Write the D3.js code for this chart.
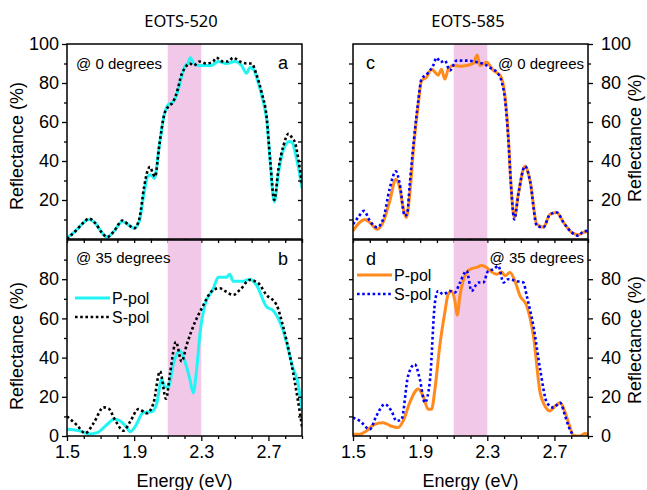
<!DOCTYPE html>
<html>
<head>
<meta charset="utf-8">
<script src="https://cdn.jsdelivr.net/npm/d3@7/dist/d3.min.js"></script>
<style>
  body { margin: 0; background: #fff; }
  text { font-family: Arial, "Liberation Sans", sans-serif; fill: #000; }
  .title { font-family: "Noto Sans", "Open Sans", sans-serif; }
</style>
</head>
<body>
<svg id="chart" width="647" height="490"></svg>
<script>

/******************************************************************************/
/*  Data (energy eV, reflectance %)                                           */
/******************************************************************************/

var energyDomain = [1.5, 2.9],
    bandRange    = [2.1, 2.3],
    xMajor       = [1.5, 1.9, 2.3, 2.7],
    xMinor       = [1.6, 1.7, 1.8, 2.0, 2.1, 2.2, 2.4, 2.5, 2.6, 2.8, 2.9],
    yTopLabels   = [20, 40, 60, 80, 100],
    yBotLabels   = [0, 20, 40, 60, 80],
    yMinor       = [10, 30, 50, 70, 90];

// EOTS-520, 0 degrees
var aP = [[1.50,0.5],[1.55,4],[1.60,8.5],[1.63,10],[1.67,8],[1.71,3],[1.74,1],[1.78,4],[1.83,9],[1.87,7],[1.90,5.5],[1.93,9],[1.96,24],[1.98,32],[2.00,33],[2.02,31],[2.05,48],[2.08,64],[2.105,69],[2.13,70],[2.15,73],[2.185,84],[2.205,89],[2.22,90],[2.235,93],[2.255,90],[2.28,89],[2.32,89],[2.36,89],[2.40,91],[2.45,90],[2.50,91],[2.54,89],[2.57,85],[2.59,88],[2.61,87],[2.64,80],[2.67,70],[2.69,61],[2.71,40],[2.735,19],[2.76,34],[2.79,46],[2.825,50],[2.845,49],[2.86,44],[2.88,36],[2.90,26]];
var aS = [[1.50,0],[1.55,4],[1.60,8.5],[1.63,10.5],[1.67,8],[1.71,3],[1.74,1],[1.78,4],[1.83,9.5],[1.87,7],[1.90,5.5],[1.93,10],[1.96,27],[1.98,35],[1.995,37],[2.01,34],[2.025,32],[2.05,48],[2.08,64],[2.105,68],[2.13,70],[2.15,74],[2.185,85],[2.205,88],[2.23,90],[2.255,89],[2.29,91],[2.33,90],[2.37,91],[2.39,93],[2.43,91],[2.46,91],[2.49,93],[2.53,91],[2.57,90],[2.60,90],[2.63,84],[2.66,75],[2.69,62],[2.71,41],[2.735,20],[2.76,36],[2.79,48],[2.82,54],[2.84,52],[2.86,49],[2.88,40],[2.90,28]];

// EOTS-520, 35 degrees
var bP = [[1.50,3.4],[1.58,2.5],[1.63,1],[1.68,1.7],[1.74,6],[1.78,8.5],[1.81,8],[1.85,5],[1.876,2.2],[1.906,4.8],[1.955,12],[2.005,12.4],[2.035,16.7],[2.064,29],[2.084,25],[2.104,25],[2.134,37],[2.173,43.5],[2.203,38],[2.233,28.6],[2.252,22],[2.272,33.7],[2.292,52],[2.322,67],[2.371,75],[2.401,81],[2.45,81],[2.47,82.5],[2.49,79],[2.55,79],[2.589,80],[2.629,77],[2.688,66],[2.728,64],[2.787,54],[2.847,34.5],[2.876,27],[2.90,13]];
var bS = [[1.50,10],[1.559,5.6],[1.609,1.4],[1.658,6.5],[1.718,14.6],[1.748,14],[1.787,8],[1.837,2.7],[1.876,7.3],[1.926,13.8],[1.975,11.6],[2.015,16.7],[2.054,33],[2.09,19],[2.114,32],[2.149,48],[2.183,38],[2.213,46.5],[2.262,58],[2.302,65],[2.371,74.5],[2.411,75.4],[2.441,74],[2.49,72],[2.53,74.5],[2.589,79.6],[2.639,78],[2.688,72],[2.748,67],[2.787,56],[2.837,37],[2.876,18],[2.90,4.8]];

// EOTS-585, 0 degrees
var cP = [[1.50,4.2],[1.54,8.5],[1.57,10],[1.60,8.5],[1.643,5],[1.679,8.5],[1.719,19.5],[1.755,30.5],[1.779,26],[1.799,16],[1.818,11],[1.838,23],[1.862,48],[1.888,68.6],[1.908,81],[1.938,83],[1.968,87],[1.988,85.6],[2.007,84],[2.027,87],[2.047,82],[2.067,87],[2.097,89],[2.137,88.6],[2.177,89],[2.216,90],[2.24,94.4],[2.256,89],[2.296,90.7],[2.336,86.4],[2.376,84],[2.405,73.7],[2.425,53],[2.441,28],[2.461,11],[2.485,23],[2.525,37.3],[2.555,29.7],[2.595,7.6],[2.634,6],[2.674,12.7],[2.714,13.6],[2.754,8.5],[2.803,3.4],[2.843,2.2],[2.873,3.4],[2.90,3.9]];
var cS = [[1.50,7.6],[1.53,11],[1.566,14.4],[1.60,9.3],[1.643,6],[1.679,10],[1.719,26],[1.755,34.7],[1.779,28],[1.808,11.9],[1.822,12.7],[1.838,28],[1.862,50],[1.888,70.3],[1.908,82],[1.942,84.7],[1.978,89],[1.998,93],[2.021,90.7],[2.047,91.5],[2.077,86.4],[2.117,91.5],[2.177,91.5],[2.236,90.7],[2.296,89],[2.326,87.3],[2.356,85.6],[2.386,80.5],[2.405,72],[2.425,51.7],[2.441,28],[2.461,10],[2.485,23],[2.525,37.3],[2.555,29.7],[2.595,6.8],[2.634,6],[2.674,12.7],[2.714,13.6],[2.754,8.5],[2.803,3.4],[2.843,1.7],[2.873,3.9],[2.90,4.2]];

// EOTS-585, 35 degrees
var dP = [[1.50,0.9],[1.54,0.9],[1.58,2.6],[1.629,6],[1.679,6.8],[1.729,5],[1.769,4.3],[1.799,7.7],[1.838,17],[1.888,24],[1.918,20.4],[1.948,13.6],[1.968,13.6],[1.988,23.8],[2.017,46],[2.047,63],[2.067,72.3],[2.087,74],[2.107,69],[2.121,61.6],[2.137,71.5],[2.153,78.3],[2.177,83.4],[2.206,85.4],[2.236,86],[2.266,87],[2.296,86],[2.326,83.7],[2.356,82.5],[2.386,83.7],[2.405,81.7],[2.435,83.4],[2.465,79],[2.495,71.5],[2.535,66.4],[2.575,51],[2.615,22],[2.639,16],[2.674,12.8],[2.704,15.3],[2.734,17],[2.764,12],[2.784,6.8],[2.814,0.3],[2.853,0],[2.883,1.4],[2.90,0]];
var dS = [[1.50,9.4],[1.54,7.7],[1.60,3.4],[1.639,10.2],[1.689,16.2],[1.729,12.8],[1.759,7.7],[1.789,8.5],[1.828,30.6],[1.868,36.6],[1.898,29],[1.928,17],[1.958,28],[1.988,68],[2.007,74],[2.037,72.3],[2.077,74],[2.107,73.2],[2.137,78.3],[2.177,84.3],[2.206,74],[2.246,78.3],[2.276,78.3],[2.306,84.3],[2.336,85],[2.366,86.8],[2.396,78.3],[2.425,80],[2.475,79],[2.515,78.3],[2.535,71.5],[2.575,56],[2.615,34],[2.655,17],[2.694,14.5],[2.734,17],[2.764,10.2],[2.784,5],[2.814,0]];


/******************************************************************************/
/*  Layout                                                                    */
/******************************************************************************/

var svg = d3.select('#chart');

var cols = [
  { x: d3.scaleLinear().domain(energyDomain).range([67, 302]), title: 'EOTS-520', tx: 181, side: 'left',
    pCol: '#22f4f4', sCol: '#000000' },
  { x: d3.scaleLinear().domain(energyDomain).range([353, 588]), title: 'EOTS-585', tx: 468, side: 'right',
    pCol: '#ff8a1e', sCol: '#0000ff' }
];

var rows = [
  { y: d3.scaleLinear().domain([0, 100]).range([239, 44]), labels: yTopLabels, angle: '@ 0 degrees' },
  { y: d3.scaleLinear().domain([0, 100]).range([436, 240]), labels: yBotLabels, angle: '@ 35 degrees' }
];

var panels = [
  { c: 0, r: 0, p: aP, s: aS, letter: 'a', ly: 146 },
  { c: 0, r: 1, p: bP, s: bS, letter: 'b', ly: 346, legend: [75, 298] },
  { c: 1, r: 0, p: cP, s: cS, letter: 'c', ly: 138 },
  { c: 1, r: 1, p: dP, s: dS, letter: 'd', ly: 340, legend: [357, 275] }
];

/******************************************************************************/
/*  Panels                                                                    */
/******************************************************************************/

panels.forEach(function(pn, i){
  var col = cols[pn.c], row = rows[pn.r],
      x = col.x, y = row.y,
      x0 = x.range()[0], x1 = x.range()[1],
      y0 = y.range()[1], y1 = y.range()[0],
      g = svg.append('g');

  // clip
  svg.append('clipPath').attr('id', 'clip' + i)
    .append('rect').attr('x', x0).attr('y', y0).attr('width', x1 - x0).attr('height', y1 - y0);

  // pink band
  g.append('rect')
    .attr('x', x(bandRange[0])).attr('y', y0)
    .attr('width', x(bandRange[1]) - x(bandRange[0])).attr('height', y1 - y0)
    .attr('fill', '#f2c8e8');

  var line = d3.line()
    .x(function(d){ return x(d[0]); })
    .y(function(d){ return y(d[1]); })
    .curve(d3.curveMonotoneX);

  var lines = g.append('g').attr('clip-path', 'url(#clip' + i + ')');
  lines.append('path').datum(pn.p)
    .attr('d', line).attr('fill', 'none')
    .attr('stroke', col.pCol).attr('stroke-width', 3).attr('stroke-linejoin', 'round');
  lines.append('path').datum(pn.s)
    .attr('d', line).attr('fill', 'none')
    .attr('stroke', col.sCol).attr('stroke-width', 2.6).attr('stroke-dasharray', '2.6,2.6');

  // frame
  g.append('rect')
    .attr('x', x0).attr('y', y0).attr('width', x1 - x0).attr('height', y1 - y0)
    .attr('fill', 'none').attr('stroke', '#000').attr('stroke-width', 1.5);

  // y axes: labelled side outward, other side small ticks
  var outer = col.side == 'left' ? d3.axisLeft(y) : d3.axisRight(y),
      outX  = col.side == 'left' ? x0 : x1,
      inX   = col.side == 'left' ? x1 : x0;

  var ya = g.append('g').attr('transform', 'translate(' + outX + ',0)')
    .call(outer.tickValues(row.labels).tickSize(5).tickPadding(col.side == 'left' ? 3 : 8));
  ya.selectAll('text').attr('font-size', 18).attr('font-family', 'Arial, "Liberation Sans", sans-serif')
    .style('text-anchor', col.side == 'left' ? 'end' : 'start');

  var yb = col.side == 'left' ? d3.axisLeft(y) : d3.axisRight(y);
  g.append('g').attr('transform', 'translate(' + outX + ',0)')
    .call(yb.tickValues(yMinor).tickSize(3).tickFormat(''));

  // mirror side ticks point left in both columns
  var allY = row.labels.concat(yMinor).filter(function(v){ return v > 0 && v < 100; });
  if (col.side == 'left') {
    g.append('g').attr('transform', 'translate(' + inX + ',0)')
      .call(d3.axisRight(y).tickValues(allY).tickSize(-4).tickFormat(''));
  } else {
    g.append('g').attr('transform', 'translate(' + inX + ',0)')
      .call(d3.axisLeft(y).tickValues(allY).tickSize(4).tickFormat(''));
  }

  // x axis ticks
  var xa = g.append('g').attr('transform', 'translate(0,' + y1 + ')');
  if (pn.r == 1) {
    xa.call(d3.axisBottom(x).tickValues(xMajor).tickSize(5).tickPadding(4).tickFormat(d3.format('.1f')));
    xa.selectAll('text').attr('font-size', 18).attr('font-family', 'Arial, "Liberation Sans", sans-serif');
    g.append('g').attr('transform', 'translate(0,' + y1 + ')')
      .call(d3.axisBottom(x).tickValues(xMinor).tickSize(3).tickFormat(''));
  } else {
    xa.call(d3.axisBottom(x).tickValues(xMajor.concat(xMinor)).tickSize(4).tickFormat(''));
  }
  g.selectAll('.domain').remove();
  g.selectAll('.tick line').attr('stroke', '#000').attr('stroke-width', 1.3);

  // annotations
  var angleX = col.side == 'left' ? x0 + 9 : x1 - 4,
      angleY = pn.r == 0 ? y0 + 25 : y0 + 23,
      letX   = col.side == 'left' ? x1 - 24 : x0 + 13;
  g.append('text').attr('x', angleX).attr('y', angleY)
    .attr('font-size', 15).attr('text-anchor', col.side == 'left' ? 'start' : 'end')
    .text(row.angle);
  g.append('text').attr('x', letX).attr('y', y0 + 25)
    .attr('font-size', 18).text(pn.letter);

  // y title
  var tx = col.side == 'left' ? 23 : 641;
  g.append('text')
    .attr('transform', 'translate(' + tx + ',' + pn.ly + ') rotate(-90)')
    .attr('text-anchor', 'middle').attr('font-size', 18)
    .text('Reflectance (%)');

  // x title
  if (pn.r == 1) {
    g.append('text').attr('x', (x0 + x1) / 2).attr('y', 487)
      .attr('text-anchor', 'middle').attr('font-size', 18)
      .text('Energy (eV)');
  } else {
    g.append('text').attr('class', 'title').attr('x', col.tx).attr('y', 27)
      .attr('text-anchor', 'middle').attr('font-size', 16.5)
      .text(col.title);
  }

  // legend
  if (pn.legend) {
    var lx = pn.legend[0], ly = pn.legend[1],
        leg = g.append('g');
    leg.append('line').attr('x1', lx).attr('x2', lx + 35).attr('y1', ly).attr('y2', ly)
      .attr('stroke', col.pCol).attr('stroke-width', 3);
    leg.append('text').attr('x', lx + 37).attr('y', ly + 5.5).attr('font-size', 16).text('P-pol');
    leg.append('line').attr('x1', lx).attr('x2', lx + 35).attr('y1', ly + 19).attr('y2', ly + 19)
      .attr('stroke', col.sCol).attr('stroke-width', 2.6).attr('stroke-dasharray', '2.6,2.6');
    leg.append('text').attr('x', lx + 37).attr('y', ly + 24.5).attr('font-size', 16).text('S-pol');
  }
});
</script>
</body>
</html>
